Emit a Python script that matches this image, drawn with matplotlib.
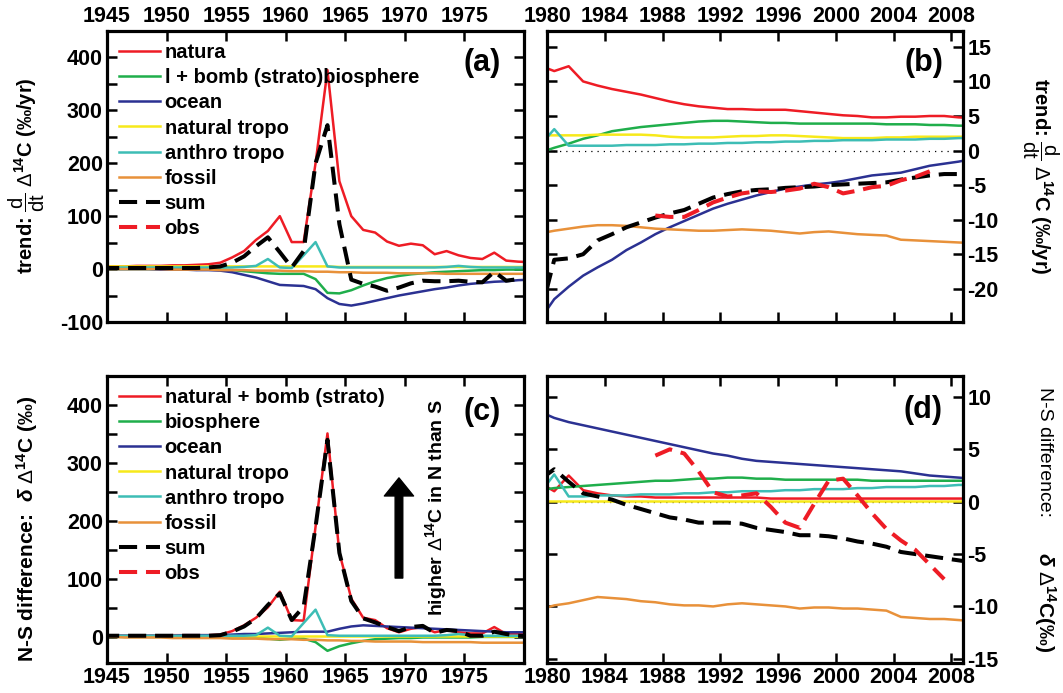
import numpy as np
import matplotlib
matplotlib.use('Agg')
import matplotlib.pyplot as plt
from matplotlib.lines import Line2D
from matplotlib.ticker import MultipleLocator, FuncFormatter

plt.rcParams['font.family'] = ['Liberation Sans', 'DejaVu Sans']
plt.rcParams['font.weight'] = 'bold'
plt.rcParams['mathtext.fontset'] = 'custom'
plt.rcParams['mathtext.rm'] = 'Liberation Sans:weight=normal'
plt.rcParams['mathtext.bf'] = 'Liberation Sans:bold'
plt.rcParams['mathtext.it'] = 'Liberation Sans:italic'
plt.rcParams['axes.unicode_minus'] = False

nan = np.nan

# mid-year points
years_early = np.arange(1944.5, 1981.0, 1.0)   # panels (a), (c)
years_late = np.arange(1979.5, 2010.0, 1.0)    # panels (b), (d)

# (a) trend, 1945-1980
trend_nat = [5, 5, 5, 6, 6, 6, 7, 7, 8, 9, 12, 22, 34, 55, 72, 100, 51, 51, 200, 376,
             166, 100, 74, 69, 52, 44, 48, 45, 28, 34, 26, 21, 19, 31, 16, 14, 13]
trend_bio = [0, 0, 0, 0, 0, 0, 0, 0, 0, -1, -1, -2, -4, -6, -8, -9, -9, -9, -19, -45,
             -46, -40, -31, -23, -17, -13, -10, -8, -6, -5, -4, -3, -2, -2, -1, -1, -1]
trend_ocean = [0, 0, 0, 0, 0, -1, -1, -1, -2, -2, -3, -6, -11, -16, -23, -30, -31, -32, -38, -55,
               -66, -69, -65, -60, -55, -50, -46, -42, -38, -35, -31, -28, -26, -24, -23, -21, -20]
trend_ntropo = [5, 5, 5, 5, 5, 5, 5, 5, 5, 5, 5, 5, 5, 5, 5, 5, 5, 5, 5, 5,
                4, 4, 4, 4, 4, 4, 4, 4, 4, 4, 4, 4, 4, 4, 4, 4, 4]
trend_atropo = [3, 3, 3, 3, 3, 3, 3, 3, 3, 3, 3, 3, 4, 6, 19, 3, 2, 26, 51, 5,
                3, 3, 3, 3, 3, 3, 3, 3, 3, 4, 6, 4, 3, 3, 3, 3, 3]
trend_fossil = [0, 0, 0, 0, 0, 0, -1, -1, -1, -1, -2, -2, -2, -3, -3, -3, -4, -4, -5, -5,
                -6, -6, -7, -7, -7, -8, -8, -8, -8, -9, -9, -9, -9, -9, -9, -9, -9]
trend_sum = [2, 2, 2, 2, 2, 2, 2, 2, 2, 3, 5, 12, 24, 43, 60, 32, 3, 34, 200, 272,
             85, -20, -28, -33, -41, -35, -27, -22, -23, -23, -22, -24, -25, -5, -22, -19, -17]

# (b) trend, 1980-2009
trend_nat_l = [12.3, 11.5, 12.2, 10.0, 9.4, 8.9, 8.5, 8.1, 7.6, 7.1, 6.7, 6.4, 6.2, 6.0, 6.0, 5.9,
               5.9, 5.9, 5.7, 5.5, 5.3, 5.1, 5.0, 4.8, 4.8, 4.9, 4.9, 5.0, 5.0, 4.8, 4.7]
trend_bio_l = [-0.3, 0.4, 1.0, 1.7, 2.2, 2.8, 3.1, 3.4, 3.6, 3.8, 4.0, 4.2, 4.3, 4.3, 4.2, 4.1,
               4.0, 4.0, 3.9, 3.9, 3.9, 3.9, 3.9, 3.9, 3.8, 3.8, 3.8, 3.7, 3.7, 3.6, 3.6]
trend_ocean_l = [-24.5, -21.5, -19.7, -18.1, -16.9, -15.8, -14.4, -13.3, -12.1, -11.1, -10.2, -9.3,
                 -8.4, -7.7, -7.1, -6.5, -6.0, -5.5, -5.2, -4.9, -4.7, -4.4, -4.0, -3.6, -3.4,
                 -3.2, -2.7, -2.2, -1.9, -1.6, -1.2]
trend_ntropo_l = [2.2, 2.2, 2.2, 2.2, 2.3, 2.3, 2.3, 2.3, 2.2, 2.0, 1.9, 1.9, 1.9, 2.0, 2.1, 2.1,
                  2.2, 2.2, 2.1, 2.0, 1.9, 1.8, 1.8, 1.8, 1.9, 1.9, 2.0, 2.0, 2.0, 2.0, 2.0]
trend_atropo_l = [0.7, 3.1, 0.7, 0.7, 0.7, 0.7, 0.8, 0.8, 0.8, 0.9, 0.9, 1.0, 1.0, 1.1, 1.1, 1.2,
                  1.2, 1.3, 1.3, 1.4, 1.4, 1.5, 1.5, 1.5, 1.6, 1.6, 1.6, 1.7, 1.7, 1.8, 1.8]
trend_fossil_l = [-12.0, -11.6, -11.3, -11.0, -10.8, -10.8, -10.9, -11.1, -11.3, -11.4, -11.5,
                  -11.6, -11.6, -11.5, -11.4, -11.5, -11.6, -11.8, -12.0, -11.8, -11.7, -11.9,
                  -12.1, -12.2, -12.3, -12.9, -13.0, -13.1, -13.2, -13.3, -13.4]
trend_sum_l = [-24, -15.8, -15.6, -15.0, -13.0, -12.1, -11.1, -10.4, -9.7, -9.1, -8.6, -7.7, -6.8,
               -6.3, -5.9, -5.7, -5.6, -5.4, -5.3, -5.2, -5.0, -4.9, -4.8, -4.7, -4.6, -4.2, -3.9,
               -3.6, -3.4, -3.4, -3.4]
trend_obs_l = [nan, nan, nan, nan, nan, nan, nan, nan, -9.4, -9.6, -9.6, -8.6, -7.5, -6.8, -6.2,
               -5.9, -6.0, -5.8, -5.5, -4.8, -5.3, -6.2, -5.8, -5.3, -5.1, -4.3, -3.8, -3.0,
               nan, nan, nan]

# (c) N-S difference, 1945-1980
ns_nat = [2, 2, 2, 2, 2, 2, 3, 3, 3, 3, 4, 10, 20, 33, 51, 78, 29, 28, 190, 351,
          145, 66, 33, 29, 15, 8, 14, 17, 8, 12, 8, 6, 6, 17, 5, 5, 5]
ns_bio = [0, 0, 0, 0, 0, 0, 0, 0, 0, 0, 0, 0, -1, -1, -3, -5, -3, -3, -9, -24,
          -16, -11, -7, -4, -3, -2, -2, -1, -1, -1, -1, -1, 0, 0, 0, 0, 0]
ns_ocean = [2, 2, 2, 2, 2, 2, 2, 3, 3, 3, 3, 4, 5, 5, 6, 7, 8, 9, 9, 9,
            14, 18, 20, 19, 18, 17, 16, 15, 14, 13, 12, 11, 10, 9, 8, 8, 8]
ns_ntropo = [1, 1, 1, 1, 1, 1, 1, 1, 1, 1, 1, 1, 1, 1, 1, 1, 1, 1, 1, 1,
             1, 1, 1, 1, 1, 1, 1, 1, 1, 1, 1, 1, 1, 1, 1, 1, 1]
ns_atropo = [2, 2, 2, 2, 2, 2, 2, 2, 2, 2, 2, 2, 2, 3, 16, 2, 1, 24, 47, 3,
             2, 2, 2, 2, 2, 2, 2, 2, 2, 3, 5, 3, 2, 2, 2, 2, 2]
ns_fossil = [0, 0, -1, -1, -1, -1, -2, -2, -2, -2, -2, -3, -3, -3, -4, -4, -4, -5, -5, -6,
             -6, -7, -7, -8, -8, -8, -8, -9, -9, -9, -9, -9, -10, -10, -10, -10, -10]
ns_sum = [2, 2, 2, 2, 2, 2, 2, 2, 2, 2, 3, 9, 18, 32, 55, 75, 29, 52, 190, 340,
          145, 62, 32, 25, 17, 10, 17, 19, 7, 12, 10, 2, 2, 9, 5, 2, 1]

# (d) N-S difference, 1980-2009
ns_nat_l = [1.8, 1.0, 2.5, 1.1, 0.8, 0.6, 0.5, 0.5, 0.4, 0.4, 0.4, 0.4, 0.4, 0.4, 0.4, 0.4,
            0.3, 0.3, 0.3, 0.3, 0.3, 0.3, 0.3, 0.3, 0.3, 0.3, 0.3, 0.3, 0.3, 0.3, 0.3]
ns_bio_l = [1.1, 1.3, 1.4, 1.5, 1.6, 1.7, 1.8, 1.9, 2.0, 2.0, 2.1, 2.2, 2.2, 2.3, 2.3, 2.2,
            2.2, 2.1, 2.1, 2.1, 2.1, 2.1, 2.1, 2.0, 2.0, 2.0, 2.0, 2.0, 2.0, 2.0, 2.0]
ns_ocean_l = [8.6, 8.0, 7.6, 7.3, 7.0, 6.7, 6.4, 6.1, 5.8, 5.5, 5.2, 4.9, 4.6, 4.4, 4.1, 3.9,
              3.8, 3.7, 3.6, 3.5, 3.4, 3.3, 3.2, 3.1, 3.0, 2.9, 2.7, 2.5, 2.4, 2.3, 2.2]
ns_ntropo_l = [0.1, 0.1, 0.1, 0.1, 0.1, 0.1, 0.1, 0.1, 0.1, 0.1, 0.1, 0.1, 0.1, 0.1, 0.1, 0.1,
               0.1, 0.1, 0.1, 0.1, 0.1, 0.1, 0.1, 0.1, 0.1, 0.1, 0.1, 0.1, 0.1, 0.1, 0.1]
ns_atropo_l = [0.8, 2.6, 0.5, 0.5, 0.6, 0.6, 0.6, 0.7, 0.7, 0.7, 0.8, 0.8, 0.9, 0.9, 1.0, 1.0,
               1.0, 1.1, 1.1, 1.2, 1.2, 1.2, 1.3, 1.3, 1.4, 1.4, 1.4, 1.5, 1.5, 1.6, 1.6]
ns_fossil_l = [-10.3, -9.9, -9.7, -9.4, -9.1, -9.2, -9.3, -9.5, -9.6, -9.8, -9.9, -9.9, -10.0,
               -9.8, -9.7, -9.8, -9.9, -10.0, -10.2, -10.1, -10.1, -10.2, -10.2, -10.3, -10.4,
               -11.0, -11.1, -11.2, -11.2, -11.3, -11.4]
ns_sum_l = [2.1, 3.1, 1.9, 0.8, 0.5, 0.2, -0.3, -0.7, -1.1, -1.5, -1.7, -2.0, -2.0, -2.0, -2.1,
            -2.5, -2.7, -2.9, -3.2, -3.2, -3.3, -3.5, -3.8, -4.0, -4.3, -4.8, -5.0, -5.2, -5.4,
            -5.6, -5.8]
ns_obs_l = [nan, nan, nan, nan, nan, nan, nan, nan, 4.4, 5.0, 4.6, 2.9, 0.9, 0.5, 0.6, 0.8,
            -0.5, -2.0, -2.5, -0.2, 2.0, 2.2, 0.6, -1.1, -2.6, -3.7, -4.6, -6.0, -7.4, nan, nan]

labels_a = ['natura', 'l + bomb (strato)biosphere', 'ocean', 'natural tropo',
            'anthro tropo', 'fossil', 'sum', 'obs']
labels_c = ['natural + bomb (strato)', 'biosphere', 'ocean', 'natural tropo',
            'anthro tropo', 'fossil', 'sum', 'obs']
line_colors = ['#ee1c25', '#1fae4b', '#2b3192', '#f7e91a', '#3dbdb5', '#e8913a']
dash = (4.5, 2.2)

fig = plt.figure(figsize=(10.63, 6.93), dpi=100)
ax_a = fig.add_axes([0.1007, 0.5354, 0.3923, 0.4199])
ax_b = fig.add_axes([0.5146, 0.5354, 0.3913, 0.4199])
ax_c = fig.add_axes([0.1007, 0.0433, 0.3923, 0.4141])
ax_d = fig.add_axes([0.5146, 0.0433, 0.3913, 0.4141])


def draw(ax, x, comps, total, obs, labels):
    for vals, col, lab in zip(comps, line_colors, labels):
        ax.plot(x, vals, color=col, lw=1.8, label=lab)
    ax.plot(x, total, color='k', lw=2.9, ls='--', dashes=dash, label=labels[6], zorder=4)
    if obs is not None:
        ax.plot(x, obs, color='#ee1c25', lw=2.9, ls='--', dashes=dash, label=labels[7], zorder=5)


draw(ax_a, years_early, [trend_nat, trend_bio, trend_ocean, trend_ntropo, trend_atropo, trend_fossil],
     trend_sum, None, labels_a)
draw(ax_b, years_late, [trend_nat_l, trend_bio_l, trend_ocean_l, trend_ntropo_l, trend_atropo_l,
                        trend_fossil_l], trend_sum_l, trend_obs_l, labels_a)
draw(ax_c, years_early, [ns_nat, ns_bio, ns_ocean, ns_ntropo, ns_atropo, ns_fossil],
     ns_sum, None, labels_c)
draw(ax_d, years_late, [ns_nat_l, ns_bio_l, ns_ocean_l, ns_ntropo_l, ns_atropo_l, ns_fossil_l],
     ns_sum_l, ns_obs_l, labels_c)

obs_proxy = Line2D([], [], color='#ee1c25', lw=2.9, ls='--', dashes=dash)
for ax, labels in [(ax_a, labels_a), (ax_c, labels_c)]:
    h, l = ax.get_legend_handles_labels()
    ax.legend(h + [obs_proxy], l + ['obs'], loc='upper left', bbox_to_anchor=(0.01, 0.985),
              frameon=False, prop={'size': 14.5, 'weight': 'bold'}, handlelength=2.0,
              handletextpad=0.25, labelspacing=0.3, borderaxespad=0.2, borderpad=0.2)

for ax in (ax_b, ax_d):
    ax.axhline(0, color='k', lw=0.9, ls=(0, (1, 4)), zorder=1)

# axes limits & ticks
for ax in (ax_a, ax_c):
    ax.set_xlim(1945, 1980)
    ax.set_xticks([1945, 1950, 1955, 1960, 1965, 1970, 1975])
    ax.yaxis.set_major_locator(MultipleLocator(50))
    ax.yaxis.set_major_formatter(FuncFormatter(lambda v, p: '%d' % v if v % 100 == 0 else ''))
for ax in (ax_b, ax_d):
    ax.set_xlim(1980, 2008.8)
    ax.set_xticks(np.arange(1980, 2009, 4))
    ax.yaxis.set_major_locator(MultipleLocator(5))
ax_a.set_ylim(-100, 450)
ax_c.set_ylim(-45, 450)
ax_b.set_ylim(-24.8, 17.3)
ax_d.set_ylim(-15.4, 12)

for ax in (ax_a, ax_b, ax_c, ax_d):
    for s in ax.spines.values():
        s.set_linewidth(2.3)
    ax.tick_params(direction='in', length=7, width=1.8, top=True, right=True, bottom=True,
                   left=True, labelsize=15.5, pad=3)
ax_a.tick_params(labeltop=True, labelbottom=False)
ax_b.tick_params(labeltop=True, labelbottom=False, labelright=True, labelleft=False)
ax_d.tick_params(labelright=True, labelleft=False)

for ax, letter, xy in [(ax_a, '(a)', (0.90, 0.89)), (ax_b, '(b)', (0.905, 0.89)),
                       (ax_c, '(c)', (0.90, 0.876)), (ax_d, '(d)', (0.905, 0.88))]:
    ax.text(xy[0], xy[1], letter, transform=ax.transAxes, ha='center', va='center',
            fontsize=22, fontweight='bold')

# arrow and note in (c)
ax_c.annotate('', xy=(0.70, 0.645), xytext=(0.70, 0.296), xycoords='axes fraction',
              arrowprops=dict(width=5.5, headwidth=21, headlength=13, color='k', shrink=0))
ax_c.text(0.788, 0.54, r'higher $\Delta^{\mathbf{14}}$C in N than S', transform=ax_c.transAxes,
          rotation=90, ha='center', va='center', fontsize=14, fontweight='bold')

# axis titles
trend_label = r'trend: $\dfrac{\mathrm{d}}{\mathrm{dt}}$ $\Delta^{\mathbf{14}}$C (‰/yr)'
fig.text(27 / 1063, 1 - 176 / 693, trend_label,
         rotation=90, ha='center', va='center', fontsize=14.5, fontweight='bold')
fig.text(1040 / 1063, 1 - 176 / 693, trend_label,
         rotation=-90, ha='center', va='center', fontsize=14.5, fontweight='bold')
fig.text(27 / 1063, 1 - 529 / 693, r'N-S difference:  $\delta$ $\Delta^{\mathbf{14}}$C (‰)',
         rotation=90, ha='center', va='center', fontsize=15, fontweight='bold')
fig.text(1045 / 1063, 1 - 452 / 693, 'N-S difference:', rotation=-90, ha='center',
         va='center', fontsize=14, fontweight='normal')
fig.text(1045 / 1063, 1 - 602 / 693, r'$\delta$ $\Delta^{\mathbf{14}}$C(‰)', rotation=-90,
         ha='center', va='center', fontsize=15, fontweight='bold')

fig.savefig('out.png', dpi=100)
